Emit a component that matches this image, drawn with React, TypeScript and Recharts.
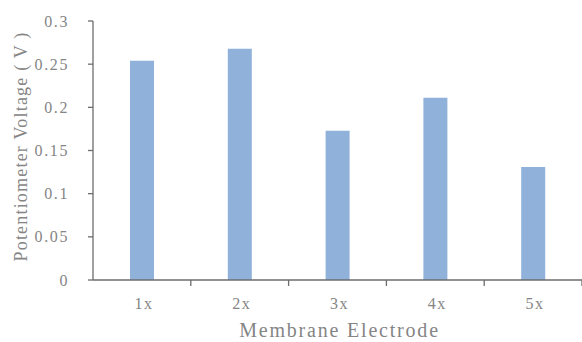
import React from "react";
import { BarChart, Bar, XAxis, YAxis, Label } from "recharts";

const categories = ["1x", "2x", "3x", "4x", "5x"];
const voltages = [0.254, 0.268, 0.173, 0.211, 0.131];
const yTicks = [0, 0.05, 0.1, 0.15, 0.2, 0.25, 0.3];

const data = categories.map((c, i) => ({ name: c, v: voltages[i] }));

const W = 582;
const H = 342;
const Y_AXIS_W = 93;
const MARGIN = { top: 21, right: 0, bottom: 0, left: 0 };
const BAND = (W - Y_AXIS_W - MARGIN.right) / categories.length;
const FONT = "Liberation Serif";
const AXIS_COLOR = "#6c6c6c";
const TEXT_COLOR = "#858585";

const XTick = (props: any) => {
  const { x, y, payload } = props;
  return (
    <g>
      <line x1={x + BAND / 2} y1={y} x2={x + BAND / 2} y2={y + 6} stroke={AXIS_COLOR} strokeWidth={1.3} />
      <text
        x={x + 2}
        y={y + 29}
        textAnchor="middle"
        fill={TEXT_COLOR}
        fontFamily={FONT}
        style={{ fontFamily: FONT, fontSize: 16, letterSpacing: 1.5 }}
      >
        {payload.value}
      </text>
    </g>
  );
};

const YTick = (props: any) => {
  const { x, y, payload } = props;
  return (
    <text
      x={x - 4}
      y={y}
      textAnchor="end"
      dominantBaseline="central"
      fill={TEXT_COLOR}
      fontFamily={FONT}
      style={{ fontFamily: FONT, fontSize: 16, letterSpacing: 1.6 }}
    >
      {payload.value}
    </text>
  );
};

const YLabel = (props: any) => {
  const { viewBox } = props;
  const cx = 21;
  const cy = viewBox.y + viewBox.height / 2 - 4;
  return (
    <text
      x={cx}
      y={cy}
      transform={`rotate(-90 ${cx} ${cy})`}
      textAnchor="middle"
      dominantBaseline="central"
      fill={TEXT_COLOR}
      fontFamily={FONT}
      style={{ fontFamily: FONT, fontSize: 18, letterSpacing: 1.2 }}
    >
      Potentiometer Voltage ( V )
    </text>
  );
};

const XLabel = (props: any) => {
  const { viewBox } = props;
  const cx = viewBox.x + viewBox.width / 2 + 2;
  return (
    <text
      x={cx}
      y={337}
      textAnchor="middle"
      fill={TEXT_COLOR}
      fontFamily={FONT}
      style={{ fontFamily: FONT, fontSize: 20, letterSpacing: 1.8 }}
    >
      Membrane Electrode
    </text>
  );
};

export default function App() {
  return (
    <div style={{ position: "absolute", left: 0, top: 0, width: W, height: H, background: "#fff" }}>
      <BarChart width={W} height={H} data={data} margin={MARGIN} barSize={24}>
        <XAxis
          dataKey="name"
          height={H - 280}
          tickLine={false}
          tickSize={0}
          tickMargin={0}
          tick={<XTick />}
          stroke={AXIS_COLOR}
          strokeWidth={1.3}
          interval={0}
        >
          <Label content={<XLabel />} />
        </XAxis>
        <YAxis
          width={Y_AXIS_W}
          domain={[0, 0.3]}
          ticks={yTicks}
          interval={0}
          tickSize={5}
          tickMargin={15}
          stroke={AXIS_COLOR}
          strokeWidth={1.3}
          tick={<YTick />}
        >
          <Label content={<YLabel />} />
        </YAxis>
        <Bar dataKey="v" fill="#8fb1da" isAnimationActive={false} />
      </BarChart>
    </div>
  );
}
